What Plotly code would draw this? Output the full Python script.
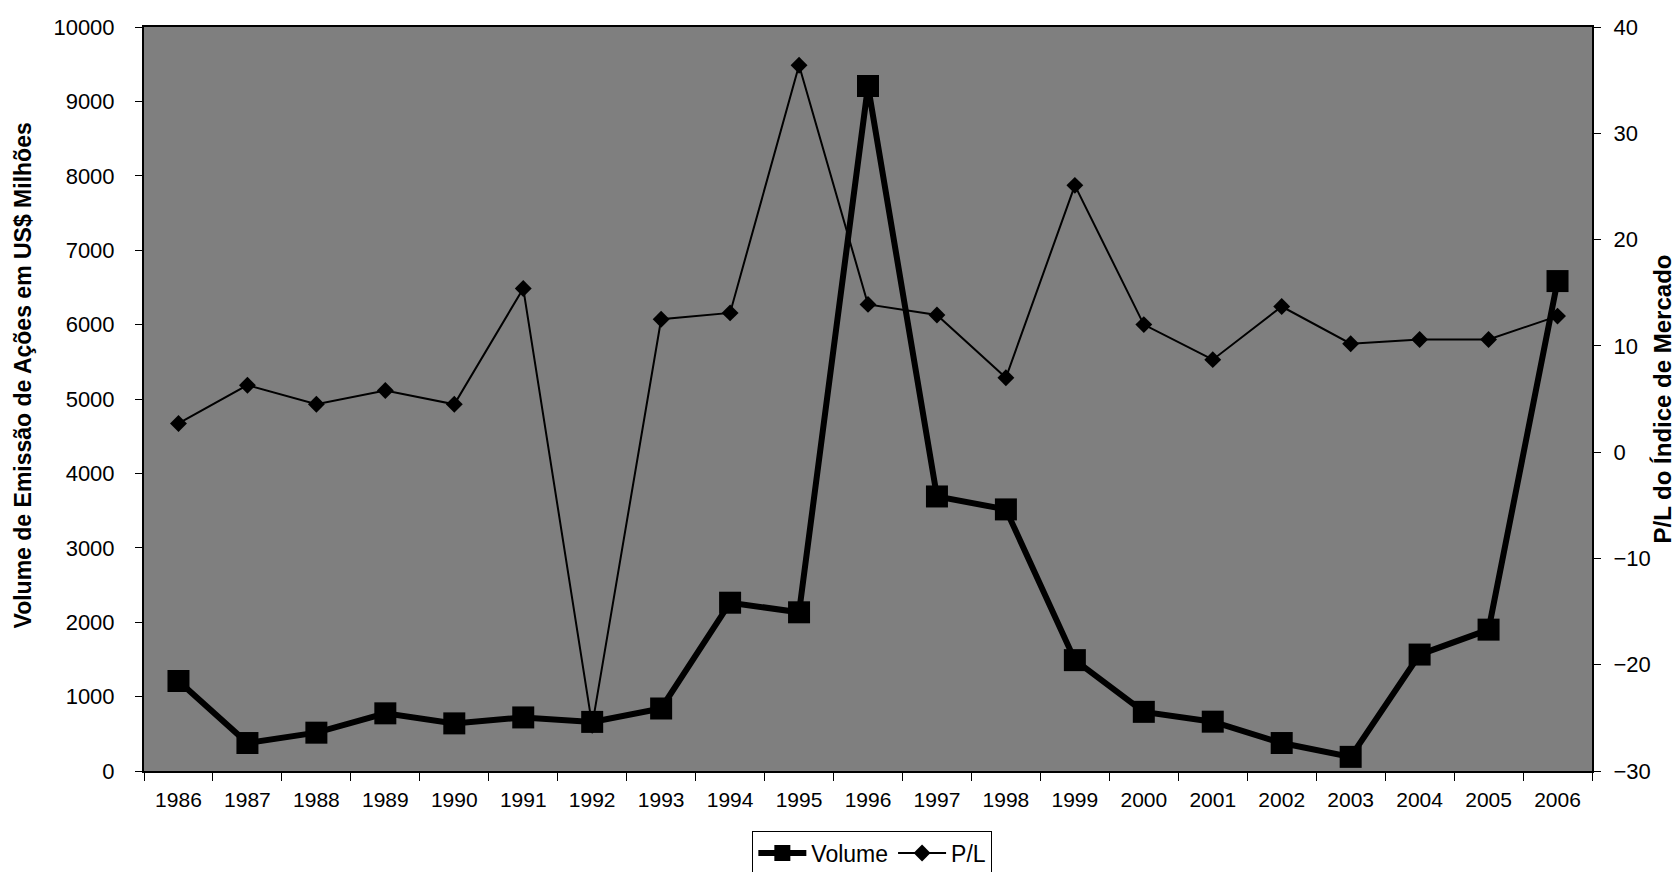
import plotly.graph_objects as go

years = ["1986", "1987", "1988", "1989", "1990", "1991", "1992", "1993", "1994", "1995", "1996",
         "1997", "1998", "1999", "2000", "2001", "2002", "2003", "2004", "2005", "2006"]
volume = [1210, 376, 515, 775, 640, 720, 660, 840, 2262, 2133, 9207,
          3690, 3516, 1490, 795, 663, 376, 190, 1565, 1900, 6585]
pl = [2.7, 6.3, 4.5, 5.8, 4.5, 15.4, -25.7, 12.5, 13.1, 36.4, 13.9,
      12.9, 7.0, 25.1, 12.0, 8.7, 13.7, 10.2, 10.6, 10.6, 12.8]

left_title = "Volume de Emissão de Ações em US$ Milhões"
right_title = "P/L do Índice de Mercado"

FONT = "Liberation Sans, Arial, sans-serif"

fig = go.Figure()
fig.add_trace(go.Scatter(
    x=years, y=volume, name="Volume", mode="lines+markers",
    line=dict(color="black", width=6),
    marker=dict(symbol="square", size=22, color="black"),
    yaxis="y",
))
fig.add_trace(go.Scatter(
    x=years, y=pl, name="P/L", mode="lines+markers",
    line=dict(color="black", width=2),
    marker=dict(symbol="diamond", size=13, color="black"),
    yaxis="y2",
))

fig.update_layout(
    width=1680, height=872,
    margin=dict(l=136, r=96, t=19, b=109, autoexpand=False),
    paper_bgcolor="white",
    plot_bgcolor="#7f7f7f",
    font=dict(family=FONT, size=21, color="black"),
    showlegend=True,
    legend=dict(
        orientation="h", x=0.503, xanchor="center", y=-0.08, yanchor="top",
        bgcolor="white", bordercolor="black", borderwidth=1,
        font=dict(size=23), itemwidth=48, tracegroupgap=0,
    ),
    xaxis=dict(
        type="category", tickson="boundaries", ticks="outside", ticklen=8,
        range=[-0.5, 20.5],
        tickcolor="black", showline=True, linecolor="black", linewidth=2,
        mirror=True, showgrid=False, zeroline=False,
        tickfont=dict(size=21), ticklabelstandoff=9,
    ),
    yaxis=dict(
        range=[0, 10000], dtick=1000, tickformat="d", ticks="outside", ticklen=7,
        tickcolor="black", showline=True, linecolor="black", linewidth=2,
        showgrid=False, zeroline=False, tickfont=dict(size=22),
        ticklabelstandoff=16,
    ),
    yaxis2=dict(
        range=[-30, 40], dtick=10, overlaying="y", side="right",
        ticks="outside", ticklen=7, tickcolor="black", showline=True,
        linecolor="black", linewidth=2, showgrid=False, zeroline=False,
        tickfont=dict(size=22), ticklabelstandoff=8,
        title=dict(text="<b>" + right_title + "</b>",
                   font=dict(size=24), standoff=4),
    ),
    annotations=[
        dict(text="<b>" + left_title + "</b>", textangle=-90,
             xref="paper", yref="paper", x=-0.0839, y=0.531,
             xanchor="center", yanchor="middle", showarrow=False,
             font=dict(size=23)),
    ],
)

fig.write_html("out.html")
